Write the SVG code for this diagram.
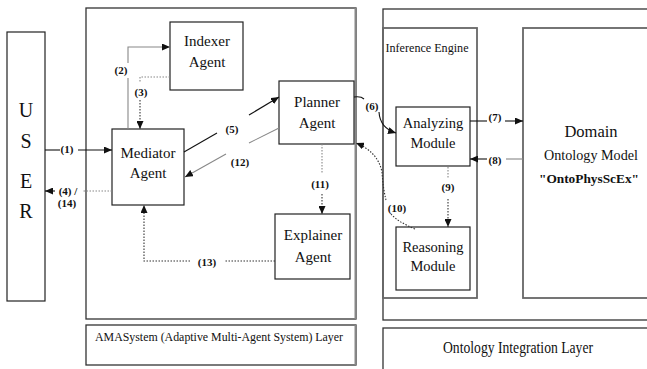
<svg xmlns="http://www.w3.org/2000/svg" width="647" height="369" viewBox="0 0 647 369">
<defs>
<marker id="ah" markerWidth="8" markerHeight="7" refX="8" refY="3.5" orient="auto" markerUnits="userSpaceOnUse">
<path d="M0,0 L8,3.5 L0,7 Z" fill="#111"/>
</marker>
<style>
.box{fill:#fff;stroke:#222;stroke-width:1.2}
.frame{fill:none;stroke:#333;stroke-width:1.3}
.gframe{fill:none;stroke:#666;stroke-width:1.8}
.t{font-family:"Liberation Serif","Times New Roman",serif;fill:#111;text-anchor:middle}
.n{font-size:15px}
.lbl{font-family:"Liberation Serif","Times New Roman",serif;font-size:11px;font-weight:bold;fill:#111;text-anchor:middle}
.solid{fill:none;stroke:#111;stroke-width:1.1}
.gray{fill:none;stroke:#888;stroke-width:1.1}
.dot{fill:none;stroke:#333;stroke-width:1.1;stroke-dasharray:1.5 1.5}
.gdot{fill:none;stroke:#888;stroke-width:1.1;stroke-dasharray:1.5 1.5}
</style>
</defs>
<rect width="647" height="369" fill="#fff"/>

<g id="user">
<rect class="box" x="7" y="32" width="38" height="269"/>
<text class="t" x="26" y="117" font-size="20">U</text>
<text class="t" x="26" y="148" font-size="20">S</text>
<text class="t" x="26" y="188" font-size="20">E</text>
<text class="t" x="26" y="218" font-size="20">R</text>
</g>

<g id="amasystem-layer">
<rect class="frame" x="86" y="8" width="270" height="311"/>
<line x1="355.5" y1="8" x2="355.5" y2="319" stroke="#888" stroke-width="2"/>
<rect class="frame" x="86" y="325" width="270" height="40"/>
<line x1="355.5" y1="325" x2="355.5" y2="365" stroke="#888" stroke-width="2"/>
<text class="t" x="95" y="341" font-size="13.5" style="text-anchor:start" textLength="248" lengthAdjust="spacingAndGlyphs">AMASystem (Adaptive Multi-Agent System) Layer</text>
</g>

<g id="ontology-layer">
<rect class="frame" x="383" y="9" width="280" height="311"/>
<rect class="frame" x="383" y="328" width="280" height="45"/>
<text class="t" x="518" y="353" font-size="16" textLength="150" lengthAdjust="spacingAndGlyphs">Ontology Integration Layer</text>
</g>

<g id="inference-engine">
<rect class="gframe" x="383" y="28" width="94" height="270"/>
<text class="t" x="427" y="52" font-size="13" textLength="83" lengthAdjust="spacingAndGlyphs">Inference Engine</text>
</g>

<g id="domain">
<rect class="gframe" x="523" y="28" width="140" height="270"/>
<text class="t" x="591" y="137" font-size="16.5">Domain</text>
<text class="t" x="591" y="160" font-size="15" textLength="94" lengthAdjust="spacingAndGlyphs">Ontology Model</text>
<text class="t" x="589" y="183" font-size="13.5" font-weight="bold" textLength="100" lengthAdjust="spacingAndGlyphs">"OntoPhysScEx"</text>
</g>

<g id="indexer">
<rect class="box" x="170" y="22" width="73" height="68"/>
<text class="t n" x="207" y="46">Indexer</text>
<text class="t n" x="207" y="67">Agent</text>
</g>

<g id="mediator">
<rect class="box" x="112" y="129" width="72" height="76"/>
<text class="t n" x="148" y="158">Mediator</text>
<text class="t n" x="148" y="178">Agent</text>
</g>

<g id="planner">
<rect class="box" x="279" y="81" width="75" height="63"/>
<text class="t n" x="317" y="107">Planner</text>
<text class="t n" x="317" y="128">Agent</text>
</g>

<g id="explainer">
<rect class="box" x="275" y="214" width="75" height="65"/>
<text class="t n" x="313" y="240">Explainer</text>
<text class="t n" x="313" y="262">Agent</text>
</g>

<g id="analyzing">
<rect class="box" x="396" y="107" width="74" height="59"/>
<text class="t" x="433" y="128" font-size="14.5">Analyzing</text>
<text class="t" x="433" y="148" font-size="14.5">Module</text>
</g>

<g id="reasoning">
<rect class="box" x="396" y="227" width="74" height="63"/>
<text class="t" x="433" y="252" font-size="14.5">Reasoning</text>
<text class="t" x="433" y="271" font-size="14.5">Module</text>
</g>

<g id="connectors">
<!-- (1) -->
<line class="solid" x1="45" y1="150" x2="60" y2="150"/>
<line class="solid" x1="78" y1="150" x2="112" y2="150" marker-end="url(#ah)"/>
<text class="lbl" x="67" y="153">(1)</text>
<!-- (4)/(14) -->
<line class="gdot" x1="112" y1="191" x2="82" y2="191"/>
<line class="solid" x1="55" y1="191" x2="45" y2="191" marker-end="url(#ah)"/>
<text class="lbl" x="68" y="195">(4) /</text>
<text class="lbl" x="67" y="207">(14)</text>
<!-- (2) -->
<polyline class="gray" points="128,63 128,47 170,47" marker-end="url(#ah)"/>
<line class="gray" x1="128" y1="78" x2="128" y2="129"/>
<text class="lbl" x="121" y="74">(2)</text>
<!-- (3) -->
<polyline class="gdot" points="170,77 140,77 140,83"/>
<line class="dot" x1="140" y1="100" x2="140" y2="129" marker-end="url(#ah)"/>
<text class="lbl" x="141" y="96">(3)</text>
<!-- (5) -->
<line class="solid" x1="184" y1="152" x2="217" y2="133"/>
<line class="solid" x1="249" y1="115" x2="279" y2="97" marker-end="url(#ah)"/>
<text class="lbl" x="232" y="133">(5)</text>
<!-- (12) -->
<line class="gray" x1="279" y1="128" x2="249" y2="143"/>
<line class="gray" x1="226" y1="154" x2="185" y2="177" marker-end="url(#ah)"/>
<text class="lbl" x="240" y="166">(12)</text>
<!-- (6) -->
<path class="solid" d="M354,97 Q361,96 364,99"/>
<path class="solid" d="M379,112 Q380,128 396,133" marker-end="url(#ah)"/>
<text class="lbl" x="372" y="110">(6)</text>
<!-- (7) -->
<line class="solid" x1="470" y1="121" x2="487" y2="121"/>
<line class="solid" x1="505" y1="121" x2="523" y2="121" marker-end="url(#ah)"/>
<text class="lbl" x="495" y="121">(7)</text>
<!-- (8) -->
<line class="gray" x1="523" y1="159" x2="506" y2="159"/>
<line class="solid" x1="487" y1="159" x2="470" y2="159" marker-end="url(#ah)"/>
<text class="lbl" x="495" y="164">(8)</text>
<!-- (9) -->
<line class="gdot" x1="448" y1="167" x2="448" y2="178"/>
<line class="dot" x1="448" y1="199" x2="448" y2="227" marker-end="url(#ah)"/>
<text class="lbl" x="448" y="191">(9)</text>
<!-- (10) -->
<path class="dot" d="M415,229 Q398,222 391,214"/>
<path class="dot" d="M386,200 Q383,188 382,172 Q378,152 356,143" marker-end="url(#ah)"/>
<text class="lbl" x="397" y="212">(10)</text>
<!-- (11) -->
<line class="gdot" x1="322" y1="144" x2="322" y2="173"/>
<line class="dot" x1="322" y1="194" x2="322" y2="214" marker-end="url(#ah)"/>
<text class="lbl" x="320" y="188">(11)</text>
<!-- (13) -->
<line class="dot" x1="275" y1="261" x2="225" y2="261"/>
<polyline class="dot" points="190,261 144,261 144,205" marker-end="url(#ah)"/>
<text class="lbl" x="207" y="266">(13)</text>
</g>
</svg>
